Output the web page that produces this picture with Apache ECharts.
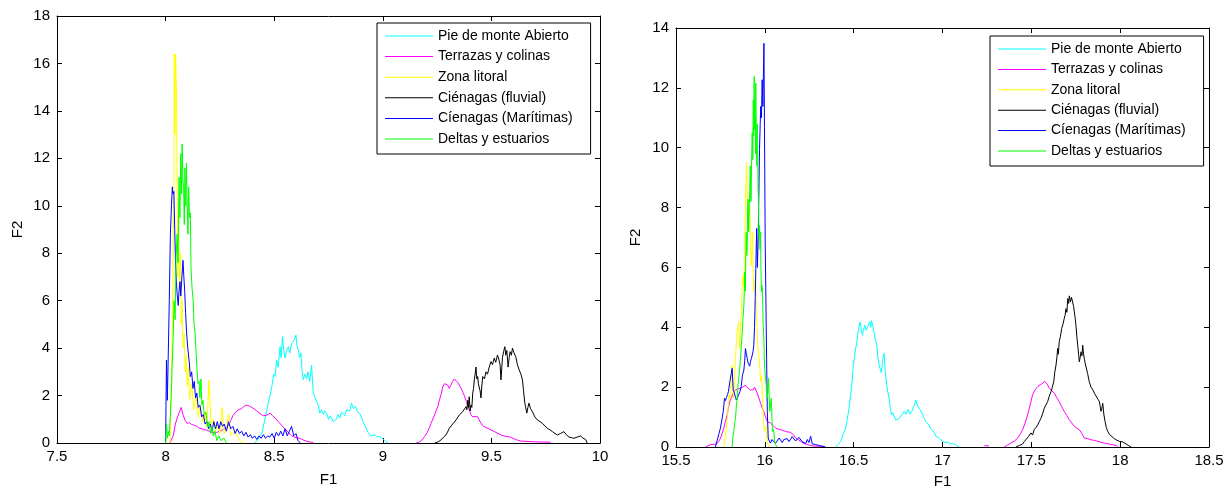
<!DOCTYPE html>
<html>
<head>
<meta charset="utf-8">
<script src="https://cdn.jsdelivr.net/npm/echarts@6/dist/echarts.min.js"></script>
<style>html,body{margin:0;padding:0;background:#fff;}#c{width:1228px;height:494px;}</style>
</head>
<body>
<div id="c"></div>
<script>
const seriesNames = ['Pie de monte Abierto','Terrazas y colinas','Zona litoral','Ciénagas (fluvial)','Cíenagas (Marítimas)','Deltas y estuarios'];
const seriesColors = ['#00ffff','#ff00ff','#ffff00','#000000','#0000ff','#00ff00'];
const leftXTicks = [7.5, 10, 0.5];
const leftYTicks = [0, 18, 2];
const rightXTicks = [15.5, 18.5, 0.5];
const rightYTicks = [0, 14, 2];

// ---- left panel ----
const leftCyan = [[8.41,0],[8.425,0.15],[8.443,0.42],[8.455,0.9],[8.466,1.39],[8.478,1.9],[8.489,2.37],[8.497,2.9],[8.504,2.8],[8.511,3.5],[8.518,3.2],[8.527,4.06],[8.532,3.6],[8.538,4.48],[8.544,3.9],[8.55,3.58],[8.557,3.9],[8.565,4.06],[8.572,3.8],[8.58,4.2],[8.59,4.3],[8.6,4.55],[8.605,4.1],[8.611,3.92],[8.617,3.6],[8.623,3.8],[8.628,3.1],[8.634,2.66],[8.641,2.9],[8.649,2.7],[8.656,3.0],[8.664,2.6],[8.672,3.29],[8.68,2.1],[8.688,1.9],[8.695,1.95],[8.703,1.6],[8.71,1.26],[8.718,1.4],[8.726,1.2],[8.733,1.35],[8.741,1.25],[8.75,1.0],[8.757,1.15],[8.764,1.05],[8.771,0.9],[8.779,0.83],[8.786,1.0],[8.794,1.2],[8.802,1.05],[8.81,1.3],[8.817,1.26],[8.825,1.15],[8.833,1.4],[8.84,1.47],[8.848,1.35],[8.856,1.68],[8.865,1.45],[8.874,1.55],[8.884,1.3],[8.894,1.25],[8.902,1.05],[8.909,0.9],[8.917,0.75],[8.924,0.6],[8.932,0.45],[8.939,0.34],[8.95,0.3],[8.962,0.35],[8.975,0.25],[8.985,0.27],[8.997,0.2],[9.008,0.1],[9.024,0]];
const leftMagenta = [[8.02,0],[8.035,0.3],[8.045,0.8],[8.055,1.1],[8.063,1.3],[8.072,1.5],[8.08,1.2],[8.09,0.95],[8.099,0.83],[8.11,0.85],[8.12,0.78],[8.132,0.75],[8.144,0.7],[8.155,0.62],[8.167,0.6],[8.178,0.55],[8.19,0.55],[8.2,0.5],[8.213,0.45],[8.225,0.42],[8.236,0.45],[8.25,0.5],[8.262,0.55],[8.275,0.62],[8.29,0.75],[8.3,0.95],[8.31,1.15],[8.322,1.3],[8.336,1.4],[8.35,1.45],[8.362,1.55],[8.374,1.6],[8.386,1.55],[8.397,1.5],[8.41,1.42],[8.42,1.35],[8.428,1.3],[8.44,1.2],[8.45,1.15],[8.458,1.1],[8.468,1.18],[8.481,1.26],[8.492,1.15],[8.505,1.05],[8.519,0.9],[8.534,0.75],[8.548,0.6],[8.565,0.45],[8.58,0.3],[8.6,0.22],[8.617,0.2],[8.635,0.12],[8.657,0.05],[8.68,0.02],
  [8.9,'-'],
  [9.154,0],[9.17,0.05],[9.18,0.12],[9.192,0.27],[9.205,0.45],[9.215,0.65],[9.222,0.83],[9.235,1.1],[9.245,1.35],[9.253,1.53],[9.262,1.85],[9.27,2.1],[9.276,2.37],[9.284,2.5],[9.291,2.58],[9.298,2.45],[9.306,2.3],[9.314,2.45],[9.322,2.6],[9.329,2.7],[9.337,2.65],[9.345,2.55],[9.352,2.45],[9.36,2.3],[9.368,2.15],[9.375,2.0],[9.385,1.75],[9.392,1.55],[9.398,1.39],[9.406,1.2],[9.414,1.1],[9.425,1.12],[9.437,1.1],[9.448,0.9],[9.46,0.72],[9.475,0.65],[9.498,0.55],[9.52,0.45],[9.544,0.34],[9.565,0.28],[9.589,0.25],[9.61,0.15],[9.635,0.08],[9.7,0.05],[9.773,0.03]];
const leftYellow = [[8.02,0],[8.025,2],[8.03,4.5],[8.035,8],[8.038,10.5],[8.04,16.4],[8.043,13],[8.046,16.4],[8.05,14.8],[8.053,11],[8.056,7],[8.06,9.5],[8.064,6.5],[8.068,8],[8.072,5],[8.076,6],[8.08,4],[8.085,4.6],[8.09,3],[8.095,3.7],[8.1,2.4],[8.105,3.2],[8.11,1.8],[8.12,2.5],[8.13,1.4],[8.14,2],[8.15,1.1],[8.16,1.6],[8.17,0.9],[8.18,1.3],[8.19,0.7],[8.2,2.65],[8.21,0.6],[8.22,1.0],[8.23,0.5],[8.24,0.8],[8.25,0.4],[8.26,1.5],[8.27,0.4],[8.28,0.6],[8.29,1.26],[8.3,0.3],[8.32,0.5],[8.34,0.1],[8.36,0]];
const leftBlack = [[9.24,0],[9.255,0.05],[9.268,0.13],[9.28,0.25],[9.291,0.34],[9.3,0.5],[9.306,0.62],[9.314,0.55],[9.322,0.8],[9.33,0.75],[9.337,0.97],[9.345,0.9],[9.352,1.18],[9.36,1.1],[9.368,1.32],[9.375,1.25],[9.383,1.53],[9.387,1.4],[9.391,1.8],[9.394,1.5],[9.398,1.95],[9.402,1.35],[9.406,1.6],[9.41,1.5],[9.414,2.1],[9.418,2.3],[9.421,2.66],[9.425,2.9],[9.429,3.2],[9.433,2.7],[9.437,2.8],[9.44,2.5],[9.444,2.45],[9.448,2.2],[9.452,1.9],[9.456,2.4],[9.46,2.8],[9.468,2.7],[9.475,3.0],[9.482,2.9],[9.49,3.2],[9.498,3.43],[9.505,3.3],[9.513,3.58],[9.52,3.4],[9.528,3.71],[9.535,3.5],[9.54,3.3],[9.544,2.66],[9.548,3.2],[9.551,3.6],[9.556,3.85],[9.562,4.06],[9.566,3.7],[9.571,3.9],[9.577,3.2],[9.582,3.6],[9.586,3.85],[9.592,3.7],[9.597,4.0],[9.604,3.8],[9.612,3.64],[9.62,3.3],[9.628,3.08],[9.636,2.9],[9.643,2.66],[9.648,2.2],[9.654,1.68],[9.658,1.5],[9.663,1.26],[9.668,1.5],[9.673,1.68],[9.68,1.45],[9.689,1.32],[9.7,1.1],[9.712,0.97],[9.724,0.9],[9.735,0.83],[9.746,0.72],[9.758,0.62],[9.77,0.55],[9.781,0.48],[9.793,0.4],[9.804,0.34],[9.818,0.4],[9.834,0.48],[9.845,0.35],[9.857,0.25],[9.87,0.22],[9.88,0.2],[9.895,0.25],[9.911,0.3],[9.922,0.2],[9.934,0.15],[9.941,0]];
const leftBlue = [[8.0,0],[8.004,3.5],[8.008,1.8],[8.012,3.6],[8.017,6],[8.022,8.8],[8.027,10],[8.031,10.8],[8.034,10.5],[8.038,10.6],[8.042,9],[8.046,7.5],[8.05,6.7],[8.054,6.2],[8.058,5.8],[8.062,6.4],[8.066,6.8],[8.07,6.2],[8.075,7.0],[8.08,7.7],[8.084,7.0],[8.088,6.4],[8.092,5.5],[8.097,4.6],[8.102,4.0],[8.108,3.5],[8.114,2.8],[8.12,3.0],[8.126,2.3],[8.132,2.6],[8.138,1.9],[8.144,2.1],[8.15,1.5],[8.158,1.6],[8.166,1.1],[8.174,1.2],[8.182,0.8],[8.19,0.9],[8.198,0.6],[8.206,0.8],[8.214,0.5],[8.222,0.9],[8.23,0.6],[8.238,0.9],[8.246,0.6],[8.254,0.9],[8.262,0.7],[8.27,0.8],[8.28,0.5],[8.29,0.9],[8.3,0.6],[8.31,0.7],[8.32,0.4],[8.33,0.6],[8.34,0.4],[8.35,0.5],[8.36,0.3],[8.37,0.45],[8.38,0.25],[8.39,0.35],[8.4,0.2],[8.41,0.3],[8.42,0.15],[8.43,0.3],[8.44,0.2],[8.45,0.35],[8.46,0.2],[8.47,0.3],[8.48,0.25],[8.49,0.4],[8.5,0.2],[8.51,0.45],[8.52,0.3],[8.53,0.5],[8.54,0.3],[8.55,0.6],[8.56,0.3],[8.57,0.5],[8.58,0.7],[8.59,0.3],[8.6,0.4],[8.61,0.1],[8.62,0]];
const leftGreen = [[8.0,0],[8.004,0.8],[8.008,0.2],[8.012,0.5],[8.016,0.3],[8.021,1.0],[8.026,2.0],[8.03,3.2],[8.035,4.5],[8.039,6],[8.044,5.2],[8.048,7.8],[8.053,8.8],[8.057,7.6],[8.062,11.2],[8.066,9.5],[8.07,12.2],[8.074,10.5],[8.076,12.6],[8.08,11.0],[8.083,10.8],[8.086,9.2],[8.089,11.6],[8.093,10.0],[8.096,11.8],[8.099,10.2],[8.103,8.8],[8.106,10.8],[8.11,9.5],[8.114,9.7],[8.117,7.4],[8.122,6.5],[8.127,6.0],[8.131,5.0],[8.136,4.6],[8.14,3.9],[8.144,3.2],[8.149,2.5],[8.154,2.6],[8.158,1.9],[8.163,2.7],[8.167,1.6],[8.172,1.8],[8.178,1.2],[8.186,1.3],[8.193,0.7],[8.2,0.9],[8.207,0.4],[8.213,0.7],[8.22,0.3],[8.227,0.5],[8.236,0.1],[8.245,0.3],[8.255,0.1],[8.268,0.2],[8.28,0]];

// ---- right panel ----
const rightCyan = [[16.398,0],[16.412,0.08],[16.427,0.19],[16.44,0.4],[16.455,0.63],[16.465,0.95],[16.474,1.3],[16.48,1.6],[16.487,1.96],[16.493,2.3],[16.498,2.74],[16.505,3.0],[16.511,3.29],[16.518,3.5],[16.524,3.85],[16.53,3.9],[16.536,4.18],[16.542,3.95],[16.549,3.73],[16.555,3.9],[16.562,4.07],[16.57,3.9],[16.577,3.95],[16.584,4.1],[16.59,4.19],[16.596,4.0],[16.601,4.22],[16.608,4.05],[16.614,3.85],[16.622,3.6],[16.63,3.4],[16.636,3.0],[16.643,2.74],[16.65,2.6],[16.656,2.48],[16.663,2.9],[16.671,3.13],[16.678,2.5],[16.686,2.07],[16.692,1.85],[16.699,1.63],[16.706,1.3],[16.713,1.07],[16.72,1.15],[16.727,1.1],[16.736,0.9],[16.746,0.85],[16.755,0.95],[16.765,0.96],[16.775,1.1],[16.784,1.19],[16.795,1.1],[16.806,1.25],[16.816,1.1],[16.827,1.19],[16.838,1.35],[16.85,1.57],[16.858,1.4],[16.868,1.3],[16.878,1.2],[16.887,1.1],[16.897,0.95],[16.906,0.85],[16.915,0.8],[16.924,0.74],[16.934,0.6],[16.944,0.65],[16.953,0.5],[16.962,0.36],[16.971,0.42],[16.981,0.3],[16.99,0.25],[17.0,0.19],[17.015,0.15],[17.028,0.17],[17.045,0.12],[17.065,0.1],[17.08,0.05],[17.094,0]];
const rightMagenta = [[15.666,0],[15.694,0.08],[15.728,0.1],[15.74,0.18],[15.751,0.3],[15.76,0.45],[15.769,0.63],[15.778,0.85],[15.788,1.07],[15.795,1.3],[15.803,1.52],[15.812,1.65],[15.822,1.8],[15.833,1.9],[15.844,1.96],[15.853,1.95],[15.863,1.9],[15.871,1.98],[15.878,2.02],[15.891,2.07],[15.9,2.0],[15.91,1.96],[15.92,1.9],[15.929,1.85],[15.936,1.92],[15.942,2.0],[15.95,1.9],[15.957,1.8],[15.966,1.65],[15.976,1.46],[15.985,1.3],[15.994,1.19],[16.004,1.0],[16.014,0.85],[16.022,0.82],[16.032,0.8],[16.046,0.72],[16.06,0.63],[16.075,0.6],[16.089,0.58],[16.103,0.55],[16.117,0.52],[16.131,0.5],[16.145,0.49],[16.16,0.42],[16.173,0.3],[16.187,0.25],[16.201,0.19],[16.22,0.12],[16.239,0.08],[16.26,0.05],[16.276,0.03],[16.331,0.02],
  [16.8,'-'],
  [17.235,0.04],[17.262,0.04],
  [17.3,'-'],
  [17.347,0],[17.365,0.06],[17.385,0.13],[17.405,0.2],[17.423,0.3],[17.437,0.42],[17.451,0.58],[17.465,0.8],[17.479,1.07],[17.493,1.4],[17.507,1.74],[17.52,1.9],[17.536,2.02],[17.55,2.08],[17.564,2.13],[17.574,2.2],[17.582,2.24],[17.59,2.1],[17.601,1.96],[17.615,1.88],[17.629,1.8],[17.643,1.65],[17.657,1.52],[17.671,1.35],[17.685,1.19],[17.7,1.05],[17.714,0.91],[17.728,0.8],[17.742,0.69],[17.756,0.62],[17.77,0.58],[17.784,0.45],[17.798,0.3],[17.817,0.28],[17.836,0.24],[17.855,0.22],[17.874,0.19],[17.892,0.16],[17.911,0.13],[17.935,0.1],[17.958,0.08],[17.986,0.03]];
const rightYellow = [[15.769,0],[15.775,0.3],[15.784,0.63],[15.788,0.9],[15.791,1.07],[15.795,1.5],[15.799,1.74],[15.803,1.6],[15.807,1.96],[15.812,2.4],[15.816,2.74],[15.82,2.0],[15.825,1.63],[15.83,2.4],[15.835,2.96],[15.839,3.4],[15.844,3.85],[15.849,4.0],[15.853,4.18],[15.856,3.7],[15.859,3.29],[15.863,4.0],[15.867,4.51],[15.872,5.2],[15.876,5.73],[15.879,5.6],[15.882,5.4],[15.886,6.8],[15.89,7.84],[15.894,8.8],[15.897,9.5],[15.9,8.5],[15.902,8.06],[15.905,7.4],[15.908,7.17],[15.912,7.8],[15.915,8.06],[15.919,7.0],[15.923,6.06],[15.927,6.6],[15.931,7.17],[15.934,6.0],[15.938,5.18],[15.942,5.4],[15.946,5.62],[15.95,4.9],[15.953,4.4],[15.957,3.8],[15.961,3.29],[15.965,3.1],[15.968,3.0],[15.972,2.6],[15.976,2.18],[15.98,2.4],[15.983,2.3],[15.987,1.6],[15.991,1.07],[15.994,0.8],[15.998,0.52],[16.002,0.6],[16.006,0.7],[16.01,0.4],[16.014,0.17],[16.023,0]];
const rightBlack = [[17.413,0],[17.432,0.05],[17.451,0.1],[17.46,0.18],[17.47,0.24],[17.484,0.35],[17.498,0.47],[17.507,0.4],[17.516,0.58],[17.526,0.65],[17.536,0.74],[17.545,0.85],[17.554,0.96],[17.563,1.1],[17.573,1.3],[17.582,1.4],[17.592,1.52],[17.601,1.7],[17.611,1.85],[17.618,2.0],[17.626,2.18],[17.632,2.5],[17.639,2.74],[17.644,3.0],[17.648,3.29],[17.652,3.1],[17.657,3.52],[17.664,3.7],[17.671,3.96],[17.678,4.1],[17.685,4.29],[17.69,4.4],[17.695,4.62],[17.7,4.5],[17.705,4.96],[17.71,4.8],[17.714,5.05],[17.72,4.85],[17.726,5.0],[17.733,4.96],[17.738,4.7],[17.742,4.51],[17.747,4.3],[17.751,4.07],[17.756,3.7],[17.761,3.4],[17.766,3.1],[17.77,2.85],[17.775,3.0],[17.78,3.18],[17.785,3.05],[17.789,3.4],[17.794,3.1],[17.798,2.96],[17.803,2.8],[17.808,2.74],[17.817,2.45],[17.826,2.18],[17.836,2.0],[17.846,1.91],[17.855,1.8],[17.864,1.74],[17.874,1.6],[17.883,1.52],[17.888,1.35],[17.892,1.19],[17.897,1.3],[17.902,1.46],[17.908,1.1],[17.915,0.85],[17.922,0.65],[17.93,0.52],[17.94,0.42],[17.949,0.36],[17.963,0.3],[17.977,0.24],[17.986,0.2],[17.995,0.19],[18.005,0.22],[18.015,0.17],[18.024,0.14],[18.033,0.1],[18.045,0.06],[18.061,0]];
const rightBlue = [[15.722,0],[15.735,0.3],[15.742,0.45],[15.75,0.63],[15.758,0.9],[15.766,1.19],[15.773,1.63],[15.778,1.55],[15.784,1.65],[15.79,1.75],[15.795,1.85],[15.803,2.18],[15.811,2.46],[15.816,2.63],[15.822,1.9],[15.829,1.8],[15.835,1.65],[15.84,1.57],[15.846,1.6],[15.853,1.75],[15.86,1.85],[15.867,2.02],[15.874,2.4],[15.882,2.57],[15.887,2.9],[15.891,3.29],[15.896,3.1],[15.901,2.96],[15.906,2.8],[15.91,2.74],[15.915,2.7],[15.919,2.85],[15.924,2.95],[15.929,3.07],[15.934,3.2],[15.938,3.4],[15.942,4.0],[15.946,5.0],[15.95,6.2],[15.954,7.3],[15.958,6.0],[15.962,6.8],[15.966,8.3],[15.97,9.94],[15.974,10.8],[15.977,11.38],[15.981,11.0],[15.985,12.27],[15.989,11.38],[15.992,12.5],[15.995,13.49],[15.998,10.72],[16.002,6.84],[16.006,4.96],[16.01,2.96],[16.014,1.19],[16.019,0.3],[16.025,0.2],[16.032,0.13],[16.04,0.25],[16.051,0.2],[16.06,0.12],[16.07,0.15],[16.08,0.3],[16.089,0.24],[16.098,0.15],[16.107,0.25],[16.116,0.3],[16.126,0.28],[16.135,0.18],[16.145,0.26],[16.154,0.35],[16.163,0.3],[16.173,0.2],[16.183,0.25],[16.192,0.32],[16.201,0.3],[16.21,0.18],[16.22,0.2],[16.23,0.12],[16.239,0.25],[16.248,0.15],[16.258,0.36],[16.267,0.1],[16.276,0.12],[16.286,0.08],[16.3,0.06],[16.314,0.04],[16.342,0]];
const rightGreen = [[15.816,0],[15.82,0.3],[15.825,0.52],[15.83,0.8],[15.835,0.96],[15.839,1.3],[15.844,1.63],[15.848,2.0],[15.853,2.29],[15.858,2.6],[15.863,2.96],[15.868,3.4],[15.873,3.85],[15.877,4.3],[15.882,4.73],[15.885,5.3],[15.887,5.84],[15.89,5.2],[15.893,6.5],[15.895,7.17],[15.898,6.4],[15.901,6.7],[15.903,7.9],[15.906,8.28],[15.909,7.2],[15.912,7.17],[15.915,8.6],[15.918,9.39],[15.921,8.2],[15.923,8.28],[15.926,9.8],[15.929,10.5],[15.932,9.6],[15.935,11.6],[15.937,10.4],[15.94,12.38],[15.943,10.6],[15.946,11.0],[15.948,9.8],[15.949,12.16],[15.952,10.2],[15.955,9.39],[15.957,10.8],[15.959,10.5],[15.962,8.6],[15.964,8.28],[15.967,7.0],[15.97,7.4],[15.973,6.6],[15.976,7.17],[15.978,6.0],[15.981,5.18],[15.984,5.4],[15.987,5.2],[15.99,4.2],[15.993,3.85],[15.996,3.3],[15.998,2.74],[16.002,2.4],[16.006,2.18],[16.01,1.9],[16.014,1.63],[16.018,1.9],[16.021,2.29],[16.025,1.6],[16.028,1.19],[16.032,1.4],[16.036,1.63],[16.04,1.0],[16.043,0.52],[16.047,0.6],[16.051,0.5],[16.055,0.2],[16.06,0.08],[16.07,0]];

const leftData = [leftCyan, leftMagenta, leftYellow, leftBlack, leftBlue, leftGreen];
const rightData = [rightCyan, rightMagenta, rightYellow, rightBlack, rightBlue, rightGreen];

const FONT = 'Liberation Sans, Arial, sans-serif';
function xAx(grid, t, pos, name, gap){
  return {gridIndex:grid, type:'value', min:t[0], max:t[1], interval:t[2], position:pos,
    axisLine:{show:true, onZero:false, lineStyle:{color:'#000', width:1}},
    axisTick:{show:true, inside:true, length:5, lineStyle:{color:'#000'}},
    axisLabel:{show:pos==='bottom', color:'#000', fontSize:15, fontFamily:FONT, margin:6, showMinLabel:true, showMaxLabel:true},
    splitLine:{show:false},
    name: pos==='bottom'?name:'', nameLocation:'middle', nameGap:gap,
    nameTextStyle:{color:'#000', fontSize:15, fontFamily:FONT}};
}
function yAx(grid, t, pos, name, gap){
  return {gridIndex:grid, type:'value', min:t[0], max:t[1], interval:t[2], position:pos,
    axisLine:{show:true, onZero:false, lineStyle:{color:'#000', width:1}},
    axisTick:{show:true, inside:true, length:5, lineStyle:{color:'#000'}},
    axisLabel:{show:pos==='left', color:'#000', fontSize:15, fontFamily:FONT, margin:7, showMinLabel:true, showMaxLabel:true},
    splitLine:{show:false},
    name: pos==='left'?name:'', nameLocation:'middle', nameGap:gap, nameRotate:90,
    nameTextStyle:{color:'#000', fontSize:15, fontFamily:FONT}};
}

const series = [];
seriesNames.forEach((n,i)=>{
  series.push({name:n, type:'line', xAxisIndex:0, yAxisIndex:0, data:leftData[i], symbol:'none', showSymbol:false,
    lineStyle:{color:seriesColors[i], width:1}, itemStyle:{color:seriesColors[i]}, connectNulls:false});
});
seriesNames.forEach((n,i)=>{
  series.push({name:n, type:'line', xAxisIndex:2, yAxisIndex:2, data:rightData[i], symbol:'none', showSymbol:false,
    lineStyle:{color:seriesColors[i], width:1}, itemStyle:{color:seriesColors[i]}, connectNulls:false});
});

function legendAt(left, top, gap){
  return {data:seriesNames, orient:'vertical', left:left, top:top, icon:'rect', itemWidth:48, itemHeight:1, itemGap:gap,
    padding:[5,18,7,8], borderColor:'#000', borderWidth:1, backgroundColor:'#fff', selectedMode:false,
    textStyle:{color:'#000', fontSize:14, fontFamily:FONT, lineHeight:16}};
}

const chart = echarts.init(document.getElementById('c'), null, {renderer:'canvas'});
chart.setOption({
  animation:false,
  backgroundColor:'#fff',
  grid:[{left:57, top:16, width:543, height:427}, {left:676, top:28, width:533, height:421}],
  xAxis:[xAx(0,leftXTicks,'bottom','F1',29), xAx(0,leftXTicks,'top','',0), xAx(1,rightXTicks,'bottom','F1',27), xAx(1,rightXTicks,'top','',0)],
  yAxis:[yAx(0,leftYTicks,'left','F2',32), yAx(0,leftYTicks,'right','',0), yAx(1,rightYTicks,'left','F2',33), yAx(1,rightYTicks,'right','',0)],
  legend:[legendAt(377,23,4.6), legendAt(990,36,4.4)],
  series:series
});
</script>
</body>
</html>
